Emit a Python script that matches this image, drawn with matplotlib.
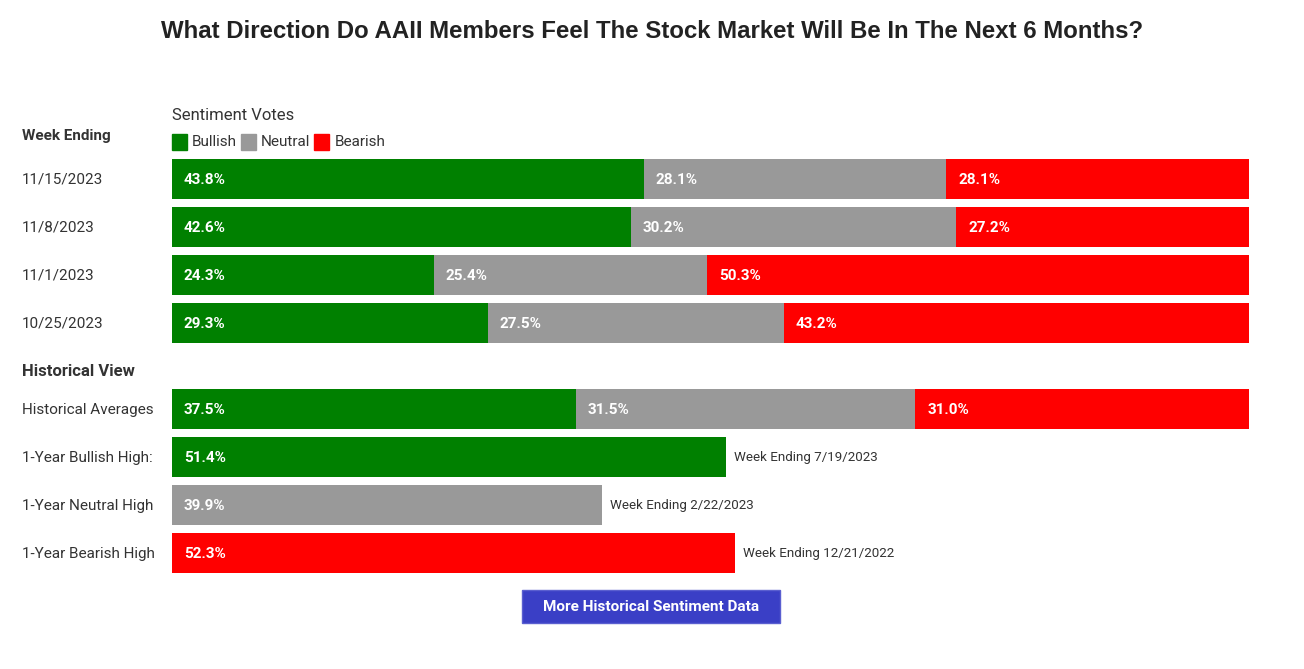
import matplotlib.pyplot as plt

plt.rcParams['font.family'] = ['Roboto', 'DejaVu Sans']

# weekly sentiment votes
weeks = ["11/15/2023", "11/8/2023", "11/1/2023", "10/25/2023"]
bullish = [43.8, 42.6, 24.3, 29.3]
neutral = [28.1, 30.2, 25.4, 27.5]
bearish = [28.1, 27.2, 50.3, 43.2]

# historical view
hist_avg = [37.5, 31.5, 31.0]
high_labels = ["1-Year Bullish High:", "1-Year Neutral High", "1-Year Bearish High"]
high_values = [51.4, 39.9, 52.3]
high_weeks = ["Week Ending 7/19/2023", "Week Ending 2/22/2023", "Week Ending 12/21/2022"]

GREEN = "#008000"
GRAY = "#999999"
RED = "#ff0000"
high_colors = [GREEN, GRAY, RED]

W, H = 1304, 669
fig = plt.figure(figsize=(W / 100, H / 100), dpi=100)

# bar axes: x in percent, y in pixel rows
ax = fig.add_axes([172 / W, 0, 1077 / W, 1])
ax.set_xlim(0, 100)
ax.set_ylim(H, 0)
ax.axis("off")

# overlay for text in pixel coordinates
tx = fig.add_axes([0, 0, 1, 1], zorder=3)
tx.set_xlim(0, W)
tx.set_ylim(H, 0)
tx.axis("off")
tx.patch.set_alpha(0)

bh = 40
px = 1077 / 100  # pixels per percent
lab_kw = dict(color="white", fontsize=11, fontweight="bold", va="center")

week_y = [179 + 48 * i for i in range(len(weeks))]
for i, y in enumerate(week_y):
    vals = [bullish[i], neutral[i], bearish[i]]
    left = 0
    for v, c in zip(vals, [GREEN, GRAY, RED]):
        ax.barh(y, v, left=left, height=bh, color=c)
        ax.text(left + 12 / px, y + 1, f"{v:.1f}%", **lab_kw)
        left += v
    tx.text(22, y + 1, weeks[i], fontsize=11, color="#333333", va="center")

# historical averages
hy = 409
left = 0
for v, c in zip(hist_avg, [GREEN, GRAY, RED]):
    ax.barh(hy, v, left=left, height=bh, color=c)
    ax.text(left + 12 / px, hy + 1, f"{v:.1f}%", **lab_kw)
    left += v
tx.text(22, hy + 1, "Historical Averages", fontsize=11, color="#333333", va="center")

for i in range(3):
    y = 457 + 48 * i
    ax.barh(y, high_values[i], height=bh, color=high_colors[i])
    ax.text(12 / px, y + 1, f"{high_values[i]:.1f}%", **lab_kw)
    ax.text(high_values[i] + 8 / px, y + 1, high_weeks[i], fontsize=9.6,
            color="#333333", va="center")
    tx.text(22, y + 1, high_labels[i], fontsize=11, color="#333333", va="center")

# headers
tx.text(W / 2, 32, "What Direction Do AAII Members Feel The Stock Market Will Be In The Next 6 Months?",
        fontsize=17.3, fontweight="bold", color="#222222", ha="center", va="center",
        family=["Liberation Sans", "DejaVu Sans"])
tx.text(22, 136, "Week Ending", fontsize=11, fontweight="bold", color="#333333", va="center")
tx.text(22, 372, "Historical View", fontsize=12, fontweight="bold", color="#333333", va="center")
tx.text(172, 116, "Sentiment Votes", fontsize=12, color="#333333", va="center")

# legend swatches
lx = 172
for name, c in zip(["Bullish", "Neutral", "Bearish"], [GREEN, GRAY, RED]):
    tx.add_patch(plt.Rectangle((lx, 134), 15, 16, color=c))
    t = tx.text(lx + 20, 142, name, fontsize=11, color="#333333", va="center")
    fig.canvas.draw()
    bb = t.get_window_extent()
    lx = bb.x1 + 4

# button
tx.add_patch(plt.Rectangle((522, 590), 258, 33, facecolor="#3a3fc6",
                           edgecolor="#5a5fd0", linewidth=1))
tx.text(651, 607, "More Historical Sentiment Data", fontsize=11, fontweight="bold",
        color="white", ha="center", va="center")

fig.savefig("out.png", dpi=100)
